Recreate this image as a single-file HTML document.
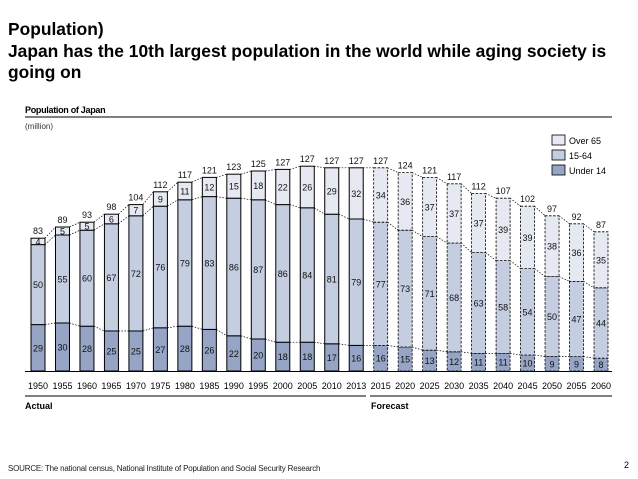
<!DOCTYPE html>
<html><head><meta charset="utf-8"><style>
body{margin:0;background:#fff;font-family:"Liberation Sans",sans-serif;}
svg{display:block}
</style></head><body>
<svg width="638" height="479" viewBox="0 0 638 479" xmlns="http://www.w3.org/2000/svg" font-family="Liberation Sans, sans-serif">
<g font-weight="bold" font-size="17.4" fill="#000">
<text x="8" y="35">Population)</text>
<text x="8" y="57">Japan has the 10th largest population in the world while aging society is</text>
<text x="8" y="78">going on</text>
</g>
<text x="25" y="113" font-size="9" font-weight="bold" letter-spacing="-0.3">Population of Japan</text>
<line x1="25" y1="117" x2="612" y2="117" stroke="#000" stroke-width="1"/>
<text x="25" y="129" font-size="8" fill="#333">(million)</text>
<g font-size="9" fill="#000">
<rect x="552" y="135" width="13" height="10" fill="#e6e9f2" stroke="#000" stroke-width="0.8"/>
<text x="569" y="144">Over 65</text>
<rect x="552" y="150" width="13" height="10" fill="#c5cde0" stroke="#000" stroke-width="0.8"/>
<text x="569" y="159">15-64</text>
<rect x="552" y="165" width="13" height="10" fill="#96a5c6" stroke="#000" stroke-width="0.8"/>
<text x="569" y="174">Under 14</text>
</g>
<g id="plot"></g>
<line x1="25" y1="371.5" x2="612" y2="371.5" stroke="#000" stroke-width="1"/>
<line x1="25" y1="396" x2="366" y2="396" stroke="#000" stroke-width="1"/>
<line x1="370" y1="396" x2="612" y2="396" stroke="#000" stroke-width="1"/>
<text x="25" y="409" font-size="9" font-weight="bold">Actual</text>
<text x="371" y="409" font-size="9" font-weight="bold">Forecast</text>
<text x="8" y="471" font-size="8" fill="#222" letter-spacing="-0.2">SOURCE: The national census, National Institute of Population and Social Security Research</text>
<text x="624" y="468" font-size="9">2</text>
</svg>
<script>
const years=[1950,1955,1960,1965,1970,1975,1980,1985,1990,1995,2000,2005,2010,2013,2015,2020,2025,2030,2035,2040,2045,2050,2055,2060];
const under14=[29,30,28,25,25,27,28,26,22,20,18,18,17,16,16,15,13,12,11,11,10,9,9,8];
const age1564=[50,55,60,67,72,76,79,83,86,87,86,84,81,79,77,73,71,68,63,58,54,50,47,44];
const over65=[4,5,5,6,7,9,11,12,15,18,22,26,29,32,34,36,37,37,37,39,39,38,36,35];
const totals=[83,89,93,98,104,112,117,121,123,125,127,127,127,127,127,124,121,117,112,107,102,97,92,87];
const forecastStart=14;
const NS="http://www.w3.org/2000/svg";
const plot=document.getElementById('plot');
const base=371,k=1.6,x0=31,step=(594-31)/(years.length-1),bw=14;
const xs=i=>x0+i*step;
const ys=v=>base-v*k;
function mk(tag,attrs){const e=document.createElementNS(NS,tag);for(const a in attrs)e.setAttribute(a,attrs[a]);plot.appendChild(e);return e;}
const cols=['#96a5c6','#c5cde0','#e6e9f2'];
const names=['under14','age15-64','over65'];
const series=[under14,age1564,over65];
for(let i=0;i<years.length-1;i++){
  let c1=0,c2=0;
  for(let s=0;s<3;s++){
    c1+=series[s][i];c2+=series[s][i+1];
    const l=mk('line',{x1:xs(i)+bw,y1:ys(c1),x2:xs(i+1),y2:ys(c2),stroke:'#000','stroke-width':0.7,'stroke-dasharray':'1.5,1.5'});
    
    
  }
}
for(let i=0;i<years.length;i++){
  const fc=i>=forecastStart;
  let cum=0;
  for(let s=0;s<3;s++){
    const v=series[s][i];
    const r=mk('rect',{x:xs(i),y:ys(cum+v),width:bw,height:v*k,fill:cols[s],stroke:'#000','stroke-width':fc?0.8:1});
    if(fc)r.setAttribute('stroke-dasharray','2.5,1.5');
    
    
    const t=mk('text',{x:xs(i)+bw/2,y:ys(cum+v/2)+3.5,'font-size':9,'text-anchor':'middle',fill:'#111'});
    t.textContent=v;
    
    
    cum+=v;
  }
  const tt=mk('text',{x:xs(i)+bw/2,y:ys(cum)-4,'font-size':9,'text-anchor':'middle',fill:'#111'});
  tt.textContent=totals[i];
  
  
  const yl=mk('text',{x:xs(i)+bw/2,y:389,'font-size':9,'text-anchor':'middle',fill:'#000'});
  yl.textContent=years[i];
  
  
}
</script>
</body></html>
